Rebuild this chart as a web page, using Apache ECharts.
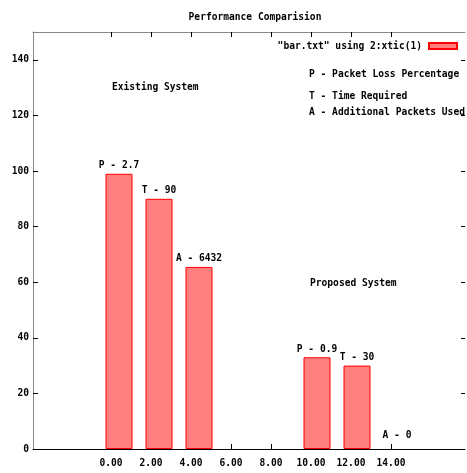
<!DOCTYPE html>
<html lang="en">
<head>
    <meta charset="UTF-8">
    <title>Performance Comparision</title>
    <script type="text/javascript" src="https://cdn.jsdelivr.net/npm/echarts@6/dist/echarts.min.js"></script>
    <style>
        html, body {margin: 0; padding: 0; background: #fff;}
        #main {width: 467px; height: 473px;}
    </style>
</head>
<body>
    <div id="main"></div>
    <script>
        // data
        var barX = [0.4, 2.4, 4.4, 10.3, 12.3, 14.3];
        var barY = [99, 90, 65.5, 33, 30, 0];
        var barLabels = ['P - 2.7', 'T - 90', 'A - 6432', 'P - 0.9', 'T - 30', 'A - 0'];
        var xTicks = [0, 2, 4, 6, 8, 10, 12, 14];
        var yTicks = [0, 20, 40, 60, 80, 100, 120, 140];
        var seriesName = '"bar.txt" using 2:xtic(1)';

        var font = 'DejaVu Sans Mono';
        var fs = 9.6;

        var barData = barX.map(function (x, i) {
            var item = {value: [x, barY[i]]};
            if (barY[i] === 0) {
                item.itemStyle = {borderWidth: 0};
                item.label = {distance: 9};
            }
            return item;
        });

        function txt(left, top, text) {
            return {
                type: 'text', left: left, top: top,
                style: {text: text, font: 'bold ' + fs + 'px "' + font + '"', fill: '#000'}
            };
        }

        var myChart = echarts.init(document.getElementById('main'));
        myChart.setOption({
            animation: false,
            title: {
                text: 'Performance Comparision',
                left: 250, top: 7,
                textAlign: 'center',
                textStyle: {fontFamily: font, fontSize: fs, fontWeight: 'bold', color: '#000'}
            },
            legend: {
                data: [seriesName],
                right: 4, top: 36,
                align: 'right',
                icon: 'rect',
                itemWidth: 28, itemHeight: 6,
                textStyle: {fontFamily: font, fontSize: fs, fontWeight: 'bold', color: '#000', padding: [0, 2, 0, 0]}
            },
            grid: {left: 33, right: 2, top: 32, bottom: 24},
            xAxis: [{
                type: 'value', position: 'bottom',
                min: -3.9, max: 17.7,
                axisLine: {onZero: false, lineStyle: {color: '#000', width: 1}},
                axisTick: {inside: true, length: 5, customValues: xTicks, lineStyle: {color: '#000'}},
                axisLabel: {
                    customValues: xTicks, margin: 9,
                    formatter: function (v) { return v.toFixed(2); },
                    fontFamily: font, fontSize: fs, fontWeight: 'bold', color: '#000'
                },
                splitLine: {show: false}
            }, {
                type: 'value', position: 'top',
                min: -3.9, max: 17.7,
                axisLine: {onZero: false, lineStyle: {color: '#888', width: 1}},
                axisTick: {inside: true, length: 5, customValues: xTicks, lineStyle: {color: '#000'}},
                axisLabel: {show: false},
                splitLine: {show: false}
            }],
            yAxis: [{
                type: 'value', position: 'left',
                min: 0, max: 150,
                axisLine: {show: true, onZero: false, lineStyle: {color: '#888', width: 1}},
                axisTick: {show: true, inside: true, length: 5, customValues: yTicks, lineStyle: {color: '#000'}},
                axisLabel: {
                    customValues: yTicks, margin: 4,
                    fontFamily: font, fontSize: fs, fontWeight: 'bold', color: '#000'
                },
                splitLine: {show: false}
            }, {
                type: 'value', position: 'right',
                min: 0, max: 150,
                axisLine: {show: false, onZero: false},
                axisTick: {show: true, inside: true, length: 4, customValues: yTicks, lineStyle: {color: '#000'}},
                axisLabel: {show: false},
                splitLine: {show: false}
            }],
            graphic: [
                txt(112, 82, 'Existing System'),
                txt(310, 278, 'Proposed System'),
                txt(309, 69, 'P - Packet Loss Percentage'),
                txt(309, 91, 'T - Time Required'),
                txt(309, 107, 'A - Additional Packets Used')
            ],
            series: [{
                name: seriesName,
                type: 'bar',
                barWidth: 27,
                itemStyle: {color: '#ff7f7f', borderColor: '#ff0000', borderWidth: 1},
                label: {
                    show: true, position: 'top', distance: 3,
                    formatter: function (p) { return barLabels[p.dataIndex]; },
                    fontFamily: font, fontSize: fs, fontWeight: 'bold', color: '#000'
                },
                data: barData
            }]
        });
    </script>
</body>
</html>
